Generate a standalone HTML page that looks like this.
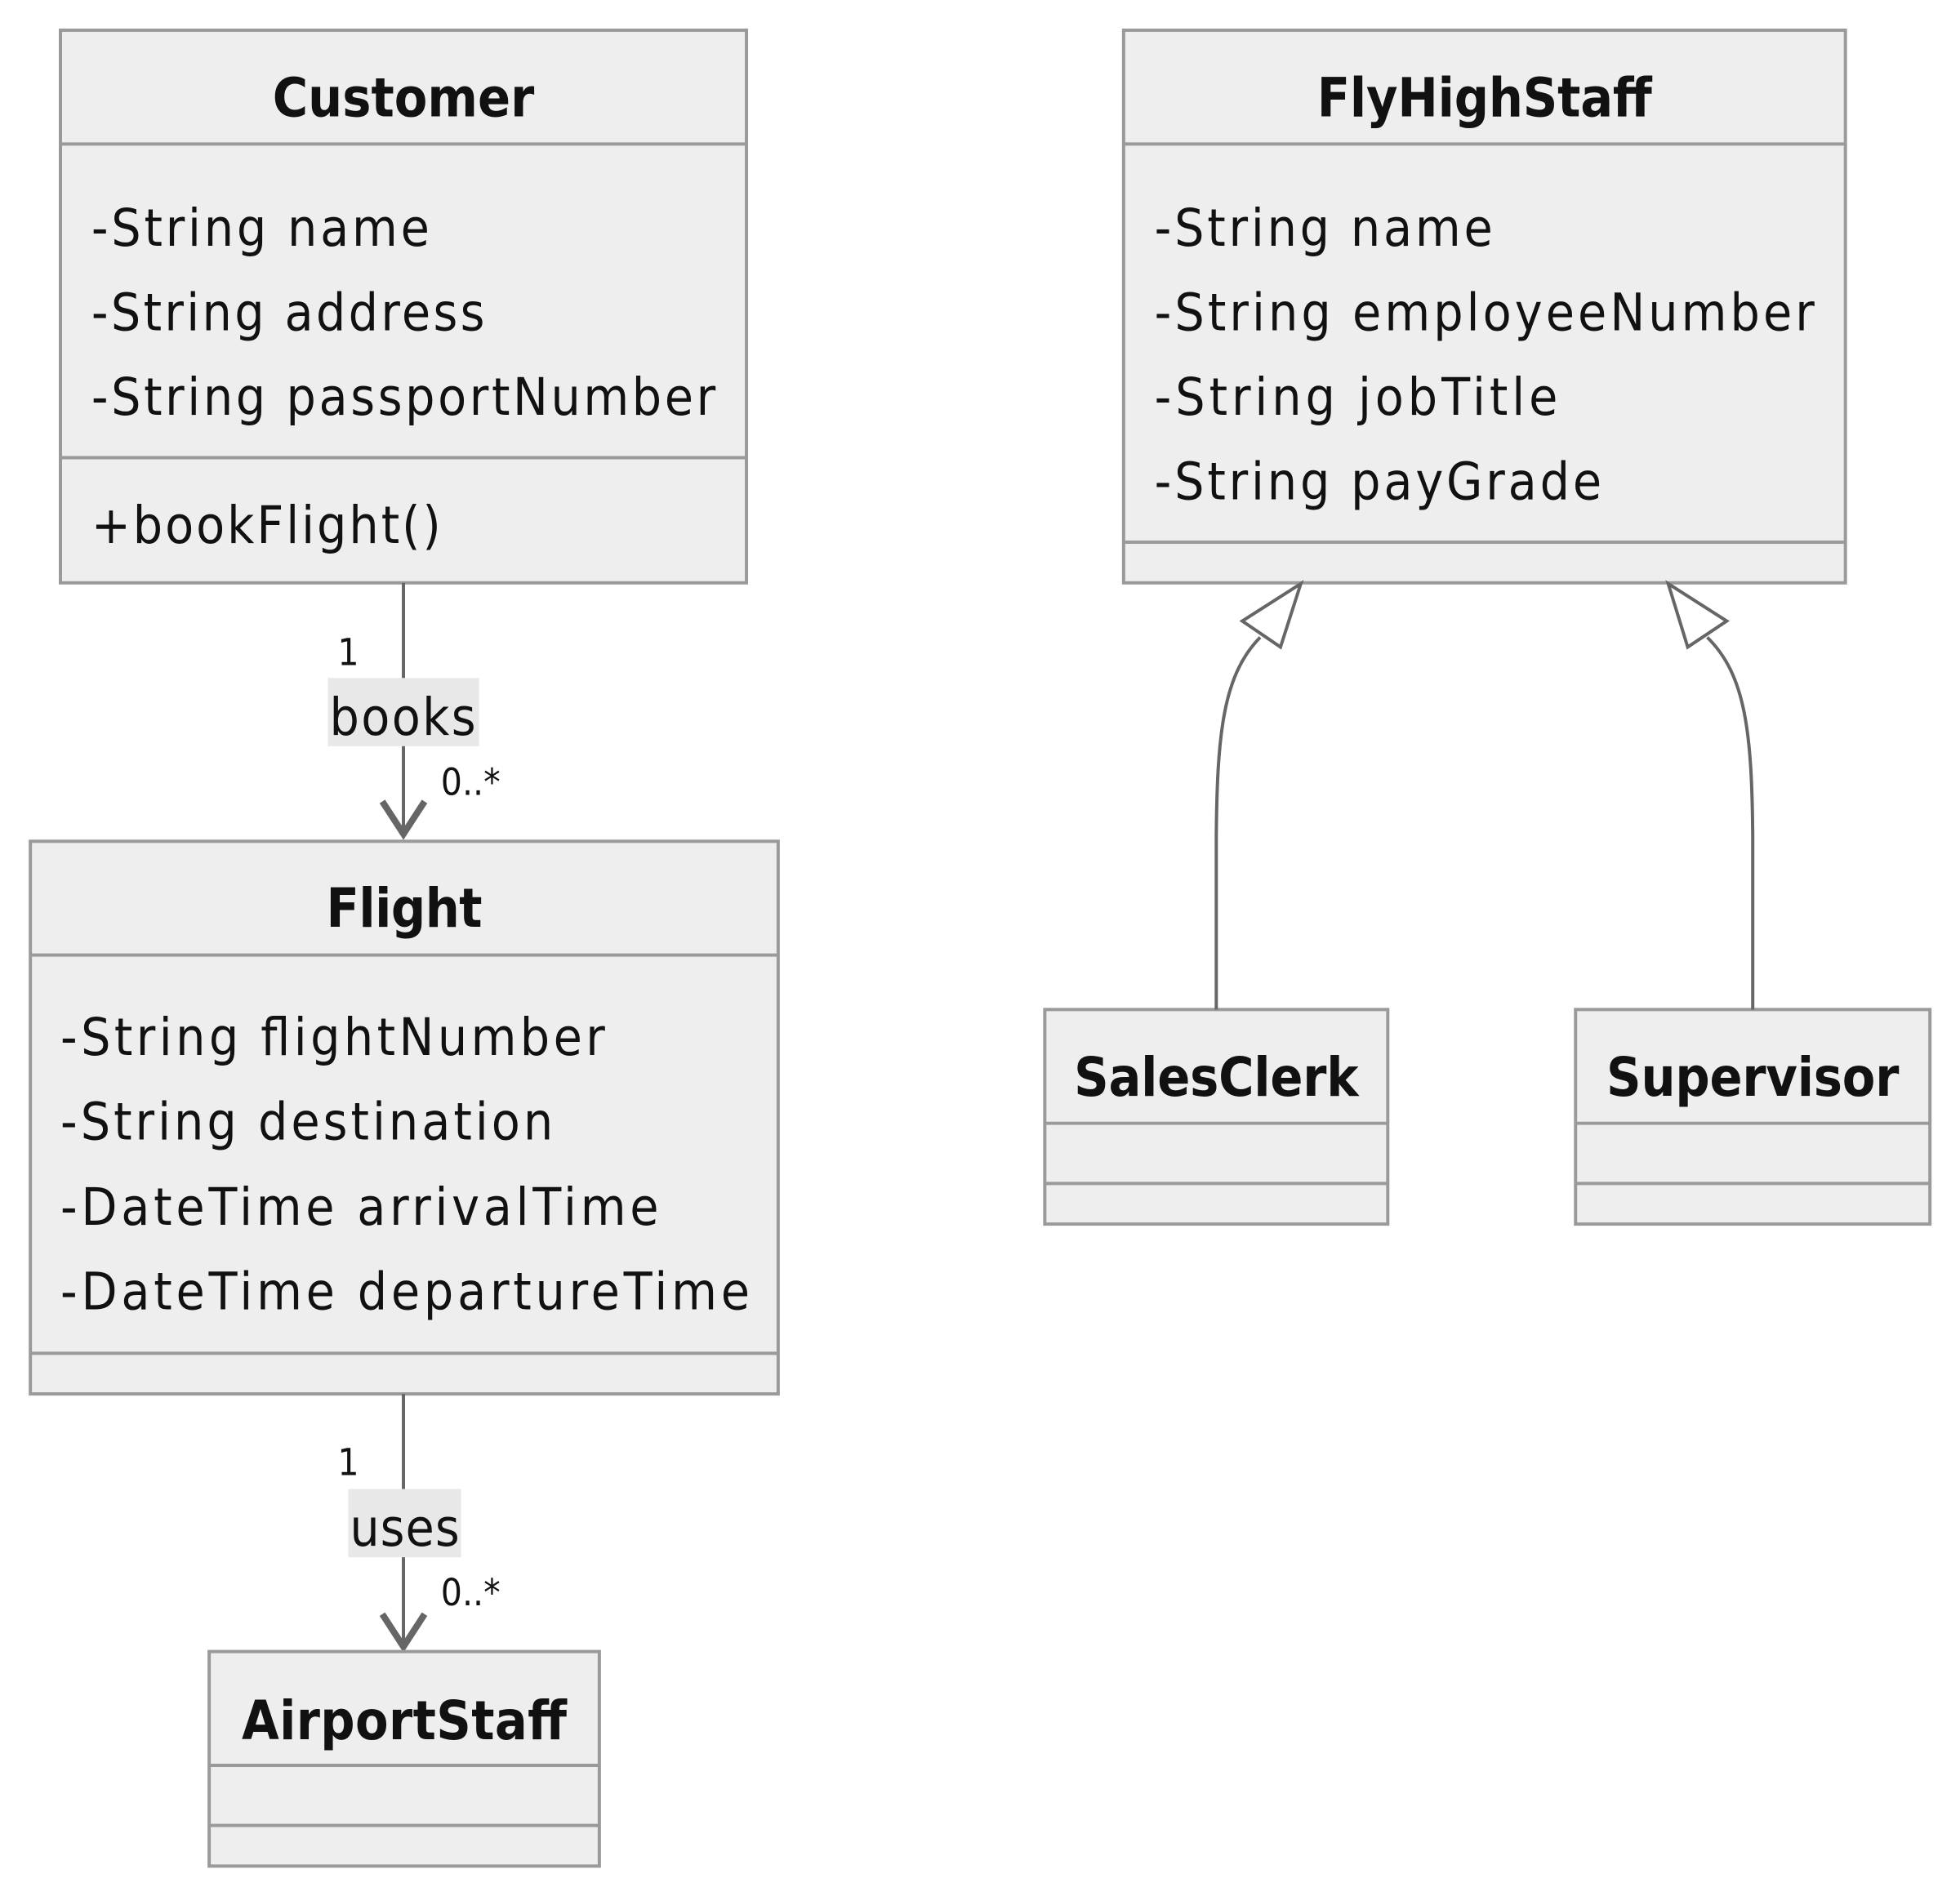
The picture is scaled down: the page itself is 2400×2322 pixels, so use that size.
<!DOCTYPE html>
<html><head><meta charset="utf-8"><style>
html,body{margin:0;padding:0;background:#fff;width:2400px;height:2322px;overflow:hidden}
svg{display:block}
text{font-family:"DejaVu Sans Condensed","DejaVu Sans","Liberation Sans",sans-serif;fill:#111}
.t{font-weight:bold;font-size:66px;text-anchor:middle}
.a{font-size:64px}
.s{font-size:46px}
.box{fill:#eeeeee;stroke:#9a9a9a;stroke-width:4}
.div{stroke:#9a9a9a;stroke-width:4}
.ln{stroke:#666;stroke-width:4;fill:none}
</style></head><body>
<svg width="2400" height="2322" viewBox="0 0 2400 2322" xmlns="http://www.w3.org/2000/svg">
<g transform="translate(74,37) scale(0.9953) translate(-74,-37)">
<!-- Customer -->
<rect class="box" x="74" y="37" width="844" height="680"/>
<line class="div" x1="74" y1="177" x2="918" y2="177"/>
<line class="div" x1="74" y1="563" x2="918" y2="563"/>
<text class="t" x="496" y="143" textLength="322">Customer</text>
<text class="a" x="112" y="302" textLength="416">-String name</text>
<text class="a" x="112" y="406" textLength="484">-String address</text>
<text class="a" x="112" y="510" textLength="768">-String passportNumber</text>
<text class="a" x="112" y="668" textLength="430">+bookFlight()</text>
<!-- edge books -->
<line class="ln" x1="496" y1="717" x2="496" y2="1026"/>
<polyline points="470,986 496,1026 522,986" fill="none" stroke="#666" stroke-width="8"/>
<text class="s" x="415" y="818">1</text>
<rect x="403" y="834" width="186" height="84" fill="#e8e8e8"/>
<text class="a" x="405" y="904" textLength="180">books</text>
<text class="s" x="542" y="978">0..*</text>
<!-- Flight -->
<rect class="box" x="37" y="1035" width="920" height="680"/>
<line class="div" x1="37" y1="1175" x2="957" y2="1175"/>
<line class="div" x1="37" y1="1665" x2="957" y2="1665"/>
<text class="t" x="497" y="1140" textLength="192">Flight</text>
<text class="a" x="74" y="1298" textLength="670">-String flightNumber</text>
<text class="a" x="74" y="1402" textLength="606">-String destination</text>
<text class="a" x="74" y="1507" textLength="736">-DateTime arrivalTime</text>
<text class="a" x="74" y="1611" textLength="848">-DateTime departureTime</text>
<!-- edge uses -->
<line class="ln" x1="496" y1="1715" x2="496" y2="2026"/>
<polyline points="470,1986 496,2026 522,1986" fill="none" stroke="#666" stroke-width="8"/>
<text class="s" x="415" y="1815">1</text>
<rect x="428" y="1832" width="139" height="84" fill="#e8e8e8"/>
<text class="a" x="430" y="1902" textLength="135">uses</text>
<text class="s" x="542" y="1975">0..*</text>
<!-- AirportStaff -->
<rect class="box" x="257" y="2032" width="480" height="264"/>
<line class="div" x1="257" y1="2172" x2="737" y2="2172"/>
<line class="div" x1="257" y1="2246" x2="737" y2="2246"/>
<text class="t" x="497" y="2140" textLength="400">AirportStaff</text>
<!-- FlyHighStaff -->
<rect class="box" x="1382" y="37" width="888" height="680"/>
<line class="div" x1="1382" y1="177" x2="2270" y2="177"/>
<line class="div" x1="1382" y1="667" x2="2270" y2="667"/>
<text class="t" x="1826" y="143" textLength="412">FlyHighStaff</text>
<text class="a" x="1420" y="302" textLength="416">-String name</text>
<text class="a" x="1420" y="406" textLength="812">-String employeeNumber</text>
<text class="a" x="1420" y="510" textLength="496">-String jobTitle</text>
<text class="a" x="1420" y="614" textLength="550">-String payGrade</text>
<!-- SalesClerk -->
<rect class="box" x="1285" y="1242" width="422" height="264"/>
<line class="div" x1="1285" y1="1382" x2="1707" y2="1382"/>
<line class="div" x1="1285" y1="1456" x2="1707" y2="1456"/>
<text class="t" x="1496" y="1348" textLength="350">SalesClerk</text>
<!-- Supervisor -->
<rect class="box" x="1938" y="1242" width="436" height="264"/>
<line class="div" x1="1938" y1="1382" x2="2374" y2="1382"/>
<line class="div" x1="1938" y1="1456" x2="2374" y2="1456"/>
<text class="t" x="2156" y="1348" textLength="360">Supervisor</text>
<!-- inheritance -->
<path class="ln" d="M1496,1242 L1496,1030 C1497,900 1505,830 1550,784"/>
<polygon points="1600,718 1528,764 1575,796" fill="#fff" stroke="#666" stroke-width="4"/>
<path class="ln" d="M2156,1242 L2156,1030 C2155,900 2147,830 2100,784"/>
<polygon points="2052,718 2124,764 2076,796" fill="#fff" stroke="#666" stroke-width="4"/>
</g>
</svg>
</body></html>
